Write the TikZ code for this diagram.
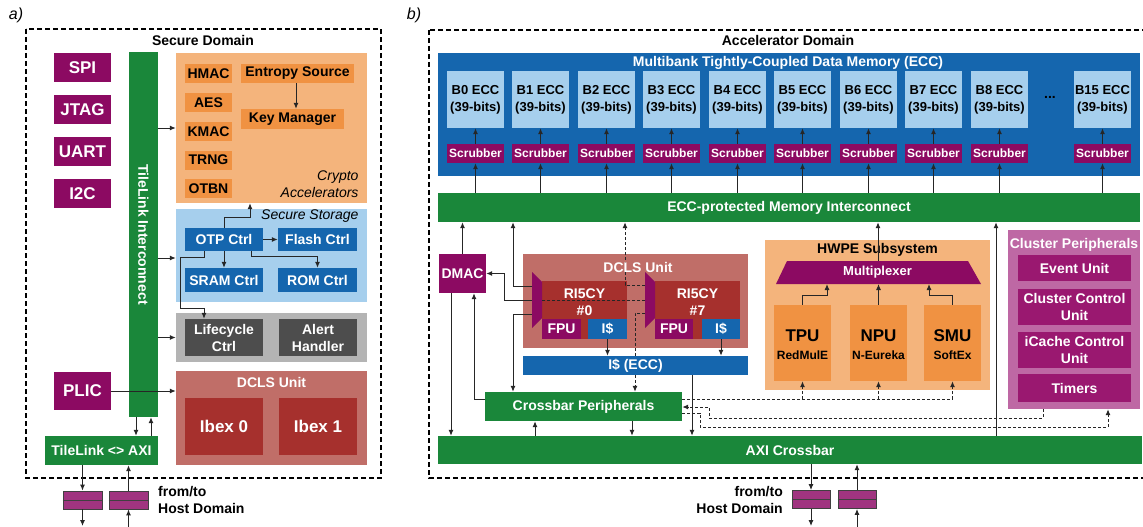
\documentclass[tikz,border=0pt]{standalone}
\usepackage{fontspec}
\setmainfont{Liberation Sans}
\usetikzlibrary{arrows.meta}

\definecolor{cPurple}{RGB}{140,10,98}
\definecolor{cPurpleB}{RGB}{154,24,112}
\definecolor{cPink}{RGB}{190,104,164}
\definecolor{cFifo}{RGB}{160,52,128}
\definecolor{cGreen}{RGB}{26,135,58}
\definecolor{cBlue}{RGB}{21,102,174}
\definecolor{cSky}{RGB}{166,207,237}
\definecolor{cPeach}{RGB}{244,180,124}
\definecolor{cOrange}{RGB}{240,146,66}
\definecolor{cGrey}{RGB}{180,180,180}
\definecolor{cDark}{RGB}{77,77,77}
\definecolor{cRose}{RGB}{192,110,104}
\definecolor{cBrick}{RGB}{166,48,45}

\newcommand\myfs[2]{\fontsize{#1}{#2}\selectfont}

\begin{document}
\begin{tikzpicture}[x=1pt,y=-1pt,
  blk/.style={inner sep=0pt, align=center, text=white, font=\myfs{14}{17}\bfseries},
  wh/.style 2 args={minimum width=#1pt, minimum height=#2pt},
  fbig/.style={font=\myfs{17}{20}\bfseries},
  fsmall/.style={font=\myfs{12}{14}\bfseries},
  ink/.style={text=black},
  area/.style={inner sep=0pt},
  domframe/.style={line width=1.6pt, dash pattern=on 5pt off 3pt},
  wire/.style={line width=1pt, draw=black!85},
  arr/.style={wire, -{Latex[length=6pt,width=5pt]}},
  dwire/.style={wire, dash pattern=on 3pt off 2pt},
  darr/.style={arr, dash pattern=on 3pt off 2pt},
  fifo/.style={draw=black!75, line width=0.8pt, fill=cFifo, minimum width=39pt, minimum height=18pt, inner sep=0pt},
]
\useasboundingbox (0,0) rectangle (1143,527);
\clip (0,0) rectangle (1143,527);

% ================= a) Secure Domain =================
\node[font=\myfs{16}{18}\itshape] (tagA) at (16,15) {a)};
\draw[domframe] (26,29) rectangle (381,478);
\node[blk,ink] (secT) at (203,40) {Secure Domain};

\foreach \n/\t/\y in {spi/SPI/67.5, jtag/JTAG/109.5, uart/UART/151.5, iic/I2C/193.5}
  \node[blk,fbig,fill=cPurple,wh={57}{29}] (\n) at (82.5,\y) {\t};
\node[blk,fbig,fill=cPurple,wh={57}{38}] (plic) at (82.5,391) {PLIC};

\node[blk,fill=cGreen,wh={29}{365}] (tl) at (143.5,234.5) {};
\node[blk,rotate=-90] (tlT) at (tl.center) {TileLink Interconnect};

% crypto accelerators
\node[area,fill=cPeach,wh={191}{150}] (crypto) at (271.5,128) {};
\foreach \n/\t/\y in {hmac/HMAC/73.5, aes/AES/102.5, kmac/KMAC/131.5, trng/TRNG/160, otbn/OTBN/188.5}
  \node[blk,ink,fill=cOrange,wh={47}{19}] (\n) at (208.5,\y) {\t};
\node[blk,ink,fill=cOrange,wh={113}{19}] (ent) at (297.5,73.5) {Entropy Source};
\node[blk,ink,fill=cOrange,wh={103}{20}] (keym) at (292.5,119) {Key Manager};
\node[anchor=base east,font=\myfs{14}{17}\itshape] (cryT1) at (362,180) {Crypto};
\node[anchor=base east,font=\myfs{14}{17}\itshape] (cryT2) at (362,197) {Accelerators};

% secure storage
\node[area,fill=cSky,wh={191}{93}] (store) at (271.5,255.5) {};
\node[anchor=base east,font=\myfs{14}{17}\itshape] (stoT) at (362,219.5) {Secure Storage};
\node[blk,fill=cBlue,wh={78}{23}] (otp) at (224,239.5) {OTP Ctrl};
\node[blk,fill=cBlue,wh={79}{23}] (flash) at (317.5,239.5) {Flash Ctrl};
\node[blk,fill=cBlue,wh={78}{24}] (sram) at (224,280) {SRAM Ctrl};
\node[blk,fill=cBlue,wh={79}{24}] (rom) at (317.5,280) {ROM Ctrl};

% lifecycle / alerts
\node[area,fill=cGrey,wh={191}{49}] (lcbox) at (271.5,337.5) {};
\node[blk,fill=cDark,wh={78}{37}] (lcc) at (224,337.5) {Lifecycle\\Ctrl};
\node[blk,fill=cDark,wh={78}{37}] (alert) at (318,337.5) {Alert\\Handler};

% lockstep Ibex pair
\node[area,fill=cRose,wh={191}{94}] (dclsA) at (271.5,418) {};
\node[blk] (dclsAT) at (271.5,382) {DCLS Unit};
\node[blk,fbig,fill=cBrick,wh={78}{57}] (ibex0) at (224,426.5) {Ibex 0};
\node[blk,fbig,fill=cBrick,wh={78}{57}] (ibex1) at (318,426.5) {Ibex 1};

% bridge and CDC fifos
\node[blk,fill=cGreen,wh={113}{29}] (tlaxi) at (101.5,450.5) {TileLink <> AXI};
\node[fifo] (fa1) at (82.5,500) {};
\node[fifo] (fa2) at (128.5,500) {};
\draw[line width=0.8pt,draw=black!75] (fa1.west) -- (fa1.east) (fa2.west) -- (fa2.east);
\node[blk,ink,anchor=west,align=left] (hostA) at (158,499.5) {from/to\\Host Domain};
\coordinate (outA1) at (82.5,526);
\coordinate (inA2) at (128.5,530);

% connectors
\draw[arr] (tl.east |- crypto.west) -- (crypto.west);
\draw[arr] (tl.east |- 0,258) -- (store.west |- 0,258);
\draw[arr] (tl.east |- lcbox.west) -- (lcbox.west);
\draw[arr] (plic.east) -- (dclsA.west |- plic.east);
\draw[arr] (tl.south -| 136,0) -- (tlaxi.north -| 136,0);
\draw[arr] (tlaxi.north -| 151,0) -- (tl.south -| 151,0);
\draw[arr] (tlaxi.south -| fa1) -- (fa1.north);
\draw[arr] (fa1.south) -- (outA1);
\draw[arr] (inA2) -- (fa2.south);
\draw[arr] (fa2.north) -- (tlaxi.south -| fa2);
\draw[arr] (ent.south -| 296,0) -- (keym.north -| 296,0);
\draw[arr] (otp.east) -- (flash.west);
\draw[arr] (otp.south) -- (sram.north);
\draw[arr] (otp.south -| 251,0) -- (251,256) -| (rom.north);
\draw[arr] (otp.north) -- (224,217) -| (crypto.south -| 250,0);
\draw[arr] (otp.south -| 204,0) -- (204,257) -| (180,308) -| (lcc.north -| 204,0);

% ================= b) Accelerator Domain =================
\node[font=\myfs{16}{18}\itshape] (tagB) at (414,15) {b)};
\draw[domframe] (429,30) rectangle (1152,478);
\node[blk,ink] (accT) at (788,40) {Accelerator Domain};

\node[area,fill=cBlue,wh={702}{123}] (tcdm) at (789,114.5) {};
\node[blk] (tcdmT) at (788,63) {Multibank Tightly-Coupled Data Memory (ECC)};
\node[blk,fill=cGreen,wh={702}{29}] (ecc) at (789,207.5) {ECC-protected Memory Interconnect};

\foreach \i/\x in {0/475.5,1/540.5,2/606.5,3/671.5,4/737.5,5/802.5,6/868.5,7/933.5,8/999.5,15/1102.5} {
  \node[blk,ink,fill=cSky,wh={57}{57},font=\myfs{13}{17}\bfseries] (b\i) at (\x,99.5) {B\i\ ECC\\(39-bits)};
  \node[blk,fsmall,fill=cPurple,wh={57}{19}] (s\i) at (\x,153.5) {Scrubber};
  \draw[arr] (s\i.north) -- (b\i.south);
  \draw[arr] (ecc.north -| s\i) -- (s\i.south);
}
\node[blk,ink] (dots) at (1050,97) {...};

\node[blk,fill=cPurple,wh={47}{39}] (dmac) at (462.5,273.5) {DMAC};

% lockstep RI5CY cluster cores
\node[area,fill=cRose,wh={225}{94}] (dclsB) at (635.5,301) {};
\node[area,fill=cBrick,wh={85}{58}] (c0) at (584.5,310) {};
\node[blk,fill=cPurple,wh={39}{20}] (fpu0) at (561.5,329) {FPU};
\node[blk,fill=cBlue,wh={39}{20}] (ic0) at (607.5,329) {I\$};
\fill[cPurple] (532,272) -- (542,282) -- (542,318) -- (532,328) -- cycle;
\node[area,fill=cBrick,wh={85}{58}] (c7) at (697.5,310) {};
\node[blk,fill=cPurple,wh={38}{20}] (fpu7) at (674,329) {FPU};
\node[blk,fill=cBlue,wh={38}{20}] (ic7) at (721,329) {I\$};
\fill[cPurple] (645,272) -- (655,282) -- (655,318) -- (645,328) -- cycle;
\node[blk,fill=cBlue,wh={225}{19}] (icecc) at (635.5,365.5) {I\$ (ECC)};

\coordinate (m0a) at (532,286);
\coordinate (m0b) at (532,300);
\coordinate (m0c) at (532,314);
\coordinate (m7a) at (645,285);
\coordinate (m7b) at (645,300);
\coordinate (m7c) at (645,313);

\node[blk,fill=cGreen,wh={197}{29}] (cp) at (583.5,406.5) {Crossbar Peripherals};
\node[blk,fill=cGreen,wh={704}{28}] (axi) at (790,450) {AXI Crossbar};

% HWPE subsystem
\node[area,fill=cPeach,wh={225}{150}] (hwpe) at (877.5,315) {};
\node[blk,ink] (hwpeT) at (877.5,250) {HWPE Subsystem};
\fill[cPurple] (787,261) -- (968,261) -- (981,284) -- (776,284) -- cycle;
\node[blk,font=\myfs{13}{16}\bfseries] (muxT) at (877.5,272.5) {Multiplexer};
\coordinate (mxtop) at (878,261);
\coordinate (mxbot) at (878,284);
\foreach \n/\a/\b/\x in {tpu/TPU/RedMulE/802.5, npu/NPU/N-Eureka/878.5, smu/SMU/SoftEx/952.5} {
  \node[area,fill=cOrange,wh={57}{76}] (\n) at (\x,343) {};
  \node[blk,ink,fbig] (\n1) at (\x,336) {\a};
  \node[blk,ink,fsmall] (\n2) at (\x,355) {\b};
}

% cluster peripherals
\node[area,fill=cPink,wh={132}{179}] (clu) at (1074,319.5) {};
\node[blk] (cluT) at (1074,245) {Cluster Peripherals};
\node[blk,fill=cPurpleB,wh={113}{26}] (evu) at (1074.5,268) {Event Unit};
\node[blk,fill=cPurpleB,wh={113}{36}] (ccu) at (1074.5,307) {Cluster Control\\Unit};
\node[blk,fill=cPurpleB,wh={113}{36}] (icu) at (1074.5,350) {iCache Control\\Unit};
\node[blk,fill=cPurpleB,wh={113}{28}] (tim) at (1074.5,388) {Timers};

% CDC fifos to host
\node[fifo,minimum width=38pt] (fb1) at (811,499.5) {};
\node[fifo,minimum width=38pt] (fb2) at (857,499.5) {};
\draw[line width=0.8pt,draw=black!75] (fb1.west) -- (fb1.east) (fb2.west) -- (fb2.east);
\node[blk,ink,anchor=east,align=right] (hostB) at (783,500) {from/to\\Host Domain};
\coordinate (outB1) at (811,526);
\coordinate (inB2) at (857,530);

% connectors
\draw[arr] (dmac.north) -- (ecc.south -| dmac.north);
\draw[arr] (m0a) -| (ecc.south -| 513,0);
\draw[arr] (m0b) -| (504,273.5) -- (dmac.east);
\draw[arr] (m0c) -| (cp.north -| 513,0);
\draw[dwire] (m7b) -- (542,300);
\draw[darr] (m7a) -| (ecc.south -| 625,0);
\draw[dwire] (m7c) -| (icecc.north -| 635,0);
\draw[darr] (icecc.south -| 635,0) -- (cp.north -| 635,0);
\draw[arr] (ic0.south) -- (icecc.north -| ic0.south);
\draw[arr] (ic7.south) -- (icecc.north -| ic7.south);
\draw[arr] (icecc.south -| 692,0) -- (axi.north -| 692,0);
\draw[arr] (dmac.south -| 451,0) -- (axi.north -| 451,0);
\draw[arr] (cp.west |- 0,399) -| (dmac.south -| 474,0);
\draw[arr] (axi.north -| 535,0) -- (cp.south -| 535,0);
\draw[arr] (cp.south -| 632,0) -- (axi.north -| 632,0);
\draw[arr] (axi.north -| 996,0) -- (ecc.south -| 996,0);
\draw[arr] (mxtop) -- (ecc.south -| mxtop);
\draw[arr] (tpu.north) -- ++(0,-9) -| (827,284);
\draw[arr] (npu.north) -- (npu.north |- mxbot);
\draw[arr] (smu.north) -- ++(0,-9) -| (929,284);
\draw[darr] (cp.east |- 0,399) -| (smu.south);
\draw[darr] (tpu.south |- 0,399) -- (tpu.south);
\draw[darr] (npu.south |- 0,399) -- (npu.south);
\draw[darr] (clu.south -| 1043,0) -- (1043,418) -| (709,407) -- (cp.east |- 0,407);
\draw[darr] (cp.east |- 0,413) -| (700,427) -| (clu.south -| 1108,0);
\draw[arr] (axi.south -| fb1) -- (fb1.north);
\draw[arr] (fb1.south) -- (outB1);
\draw[arr] (inB2) -- (fb2.south);
\draw[arr] (fb2.north) -- (axi.south -| fb2);

% titles drawn last so they sit above the wires
\node[blk] (dclsBT) at (638,267) {DCLS Unit};
\node[blk] (c0T) at (584.5,302.5) {RI5CY\\\#0};
\node[blk] (c7T) at (697.5,302.5) {RI5CY\\\#7};
\end{tikzpicture}
\end{document}
